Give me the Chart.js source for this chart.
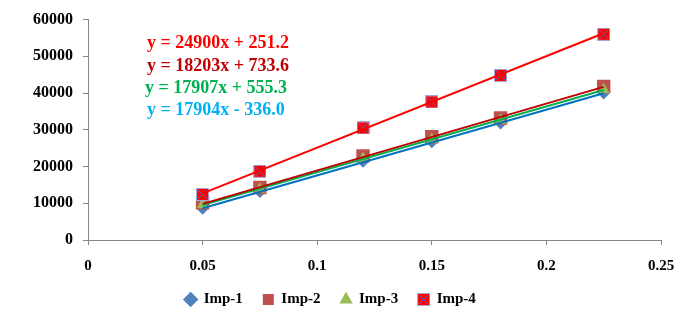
<!doctype html>
<html>
<head>
    <title>Imp</title>
    <script src="https://cdn.jsdelivr.net/npm/chart.js"></script>
    <style>
        body { margin: 0; background: #fff; }
        #caixa { width: 689px; height: 317px; }
    </style>
</head>
<body>
    <div id="caixa"><canvas id="grafico"></canvas></div>

    <script>
        // valores
        var concentracoes = [0.05, 0.075, 0.12, 0.15, 0.18, 0.225];
        var imp1 = [8500, 13100, 21300, 26600, 31700, 39900];
        var imp2 = [10100, 14300, 22900, 28100, 33200, 41800];
        var imp3 = [9600, 13800, 22200, 27300, 32500, 40900];
        var imp4 = [12400, 18700, 30500, 37600, 44800, 56000];

        // linhas de tendencia (inicio e fim)
        var tendenciaX = [0.05, 0.225];
        var tend1 = [8620, 39950];
        var tend2 = [9830, 41690];
        var tend3 = [9510, 40850];
        var tend4 = [12700, 56280];

        var equacoes = ['y = 24900x + 251.2', 'y = 18203x + 733.6', 'y = 17907x + 555.3', 'y = 17904x - 336.0'];
        var coresEquacoes = ['#FF0000', '#C00000', '#00B050', '#00B0F0'];
        var ticksX = [0, 0.05, 0.1, 0.15, 0.2, 0.25];
        var ticksY = [0, 10000, 20000, 30000, 40000, 50000, 60000];

        function pontos(xs, ys) {
            return xs.map(function (x, i) { return { x: x, y: ys[i] }; });
        }

        // marcador do Imp-4: quadrado vermelho com X azul
        var marcador4 = document.createElement('canvas');
        marcador4.width = 13;
        marcador4.height = 13;
        var c = marcador4.getContext('2d');
        c.fillStyle = '#FF0000';
        c.fillRect(1, 1, 11, 11);
        c.strokeStyle = '#A6A6D9';
        c.lineWidth = 1;
        c.strokeRect(0.5, 0.5, 12, 12);
        c.strokeStyle = '#4F6FD0';
        c.beginPath();
        c.moveTo(2, 2); c.lineTo(11, 11);
        c.moveTo(11, 2); c.lineTo(2, 11);
        c.stroke();

        var fonte = "'Liberation Serif', 'Times New Roman', serif";

        var textoEquacoes = {
            id: 'textoEquacoes',
            afterDraw: function (chart) {
                var ctx = chart.ctx;
                ctx.save();
                ctx.font = 'bold 18px ' + fonte;
                ctx.textBaseline = 'middle';
                var linhasY = [43, 66, 88, 110];
                var linhasX = [147, 147, 145, 147];
                equacoes.forEach(function (t, i) {
                    ctx.fillStyle = coresEquacoes[i];
                    ctx.fillText(t, linhasX[i], linhasY[i]);
                });
                ctx.restore();
            }
        };

        var grafico = new Chart(document.getElementById('grafico').getContext('2d'), {
            type: 'scatter',
            data: {
                datasets: [{
                    label: 'Imp-1',
                    data: pontos(concentracoes, imp1),
                    pointStyle: 'rectRot',
                    pointRadius: 6,
                    backgroundColor: '#4F81BD',
                    borderColor: '#4F81BD',
                    borderWidth: 0,
                    order: 6
                }, {
                    label: 'Imp-2',
                    data: pontos(concentracoes, imp2),
                    pointStyle: 'rect',
                    pointRadius: 9.5,
                    backgroundColor: '#C0504D',
                    borderColor: '#C0504D',
                    borderWidth: 0,
                    order: 5
                }, {
                    label: 'Imp-3',
                    data: pontos(concentracoes, imp3),
                    pointStyle: 'triangle',
                    pointRadius: 7,
                    backgroundColor: '#9BBB59',
                    borderColor: '#9BBB59',
                    borderWidth: 0,
                    order: 4
                }, {
                    label: 'Imp-4',
                    data: pontos(concentracoes, imp4),
                    pointStyle: marcador4,
                    backgroundColor: '#FF0000',
                    borderColor: '#FF0000',
                    order: 3
                }, {
                    label: 'tend1',
                    data: pontos(tendenciaX, tend1),
                    showLine: true,
                    pointRadius: 0,
                    borderColor: '#0070C0',
                    borderWidth: 2,
                    order: 2
                }, {
                    label: 'tend2',
                    data: pontos(tendenciaX, tend2),
                    showLine: true,
                    pointRadius: 0,
                    borderColor: '#C00000',
                    borderWidth: 2,
                    order: 2
                }, {
                    label: 'tend3',
                    data: pontos(tendenciaX, tend3),
                    showLine: true,
                    pointRadius: 0,
                    borderColor: '#00B050',
                    borderWidth: 2,
                    order: 2
                }, {
                    label: 'tend4',
                    data: pontos(tendenciaX, tend4),
                    showLine: true,
                    pointRadius: 0,
                    borderColor: '#FF0000',
                    borderWidth: 2,
                    order: 1
                }]
            },
            options: {
                responsive: true,
                maintainAspectRatio: false,
                animation: false,
                layout: {
                    padding: { left: 0, right: 28, top: 15, bottom: 0 }
                },
                plugins: {
                    tooltip: { enabled: false },
                    legend: {
                        position: 'bottom',
                        labels: {
                            usePointStyle: true,
                            boxWidth: 11,
                            boxHeight: 11,
                            padding: 20,
                            color: '#000',
                            font: { family: fonte, size: 15, weight: 'bold' },
                            filter: function (item) { return item.text.indexOf('Imp') === 0; },
                            sort: function (a, b) { return a.datasetIndex - b.datasetIndex; }
                        }
                    }
                },
                scales: {
                    x: {
                        type: 'linear',
                        min: 0,
                        max: 0.25,
                        afterBuildTicks: function (s) { s.ticks = ticksX.map(function (v) { return { value: v }; }); },
                        afterFit: function (s) { s.height = 32; },
                        border: { color: '#868686', width: 1 },
                        grid: { drawOnChartArea: false, drawTicks: true, tickLength: 5, color: '#868686' },
                        ticks: {
                            color: '#000',
                            padding: 12,
                            maxRotation: 0,
                            font: { family: fonte, size: 15, weight: 'bold' },
                            callback: function (v) { return String(v); }
                        }
                    },
                    y: {
                        min: 0,
                        max: 60000,
                        afterBuildTicks: function (s) { s.ticks = ticksY.map(function (v) { return { value: v }; }); },
                        afterFit: function (s) { s.width = 88; },
                        border: { color: '#868686', width: 1 },
                        grid: { drawOnChartArea: false, drawTicks: true, tickLength: 5, color: '#868686' },
                        ticks: {
                            color: '#000',
                            padding: 10,
                            font: { family: fonte, size: 16, weight: 'bold' },
                            callback: function (v) { return String(v); }
                        }
                    }
                }
            },
            plugins: [textoEquacoes]
        });
    </script>
</body>
</html>
